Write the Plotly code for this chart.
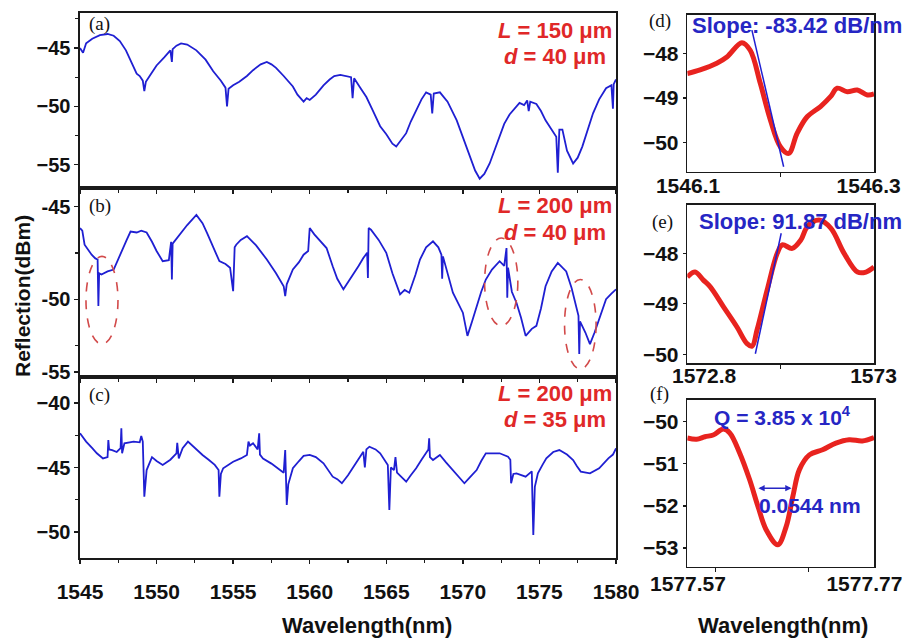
import plotly.graph_objects as go

# ---------------- data ----------------
a_wl = [1545.0,1545.2,1545.4,1545.8,1546.3,1546.8,1547.2,1547.6,1548.0,1548.4,1548.7,1548.9,1549.1,1549.2,1549.3,1549.6,1550.0,1550.5,1550.9,1551.0,1551.05,1551.3,1551.6,1552.0,1552.6,1553.2,1553.7,1554.2,1554.5,1554.6,1554.7,1555.0,1555.4,1555.9,1556.3,1556.8,1557.2,1557.5,1557.8,1558.3,1558.9,1559.2,1559.4,1559.6,1559.8,1560.0,1560.4,1560.9,1561.3,1561.6,1562.0,1562.4,1562.7,1562.8,1562.9,1563.3,1563.7,1564.1,1564.6,1565.0,1565.4,1565.65,1565.9,1566.3,1566.6,1566.95,1567.3,1567.6,1567.9,1568.0,1568.1,1568.5,1569.0,1569.6,1570.0,1570.4,1570.8,1571.1,1571.4,1571.75,1572.1,1572.4,1572.7,1573.05,1573.4,1573.7,1574.0,1574.2,1574.3,1574.4,1574.8,1575.1,1575.4,1575.8,1576.1,1576.2,1576.3,1576.5,1576.8,1577.2,1577.5,1577.8,1578.1,1578.5,1578.9,1579.35,1579.7,1579.8,1579.85,1580.0]
a_dbm = [-45.0,-45.4,-44.6,-44.2,-43.9,-43.8,-43.95,-44.4,-45.2,-46.3,-47.2,-47.4,-47.8,-48.7,-47.9,-47.3,-46.5,-45.8,-45.2,-46.2,-45.1,-44.8,-44.6,-44.7,-45.2,-46.0,-47.0,-47.8,-48.4,-50.0,-48.5,-48.2,-47.9,-47.4,-46.9,-46.4,-46.2,-46.4,-46.7,-47.4,-48.3,-49.0,-49.3,-49.6,-49.3,-49.45,-49.0,-48.2,-47.7,-47.4,-47.3,-47.4,-47.5,-49.3,-47.6,-48.4,-49.2,-50.3,-51.7,-52.4,-53.2,-53.45,-53.0,-52.3,-51.3,-50.3,-49.4,-48.8,-49.0,-50.6,-48.9,-48.8,-49.6,-51.2,-52.6,-54.0,-55.5,-56.2,-55.8,-54.9,-53.7,-52.6,-51.5,-50.7,-50.2,-49.7,-49.9,-49.5,-50.4,-49.6,-49.8,-50.4,-51.2,-52.0,-52.6,-55.7,-52.0,-52.0,-53.8,-54.9,-54.4,-53.45,-52.2,-50.6,-49.4,-48.45,-48.2,-50.2,-48.1,-47.7]

b_wl = [1545.0,1545.15,1545.3,1545.5,1545.76,1546.0,1546.15,1546.2,1546.25,1546.4,1546.8,1547.2,1547.6,1548.05,1548.3,1548.7,1549.0,1549.35,1549.7,1550.0,1550.4,1550.8,1550.95,1551.0,1551.05,1551.5,1552.0,1552.6,1553.0,1553.3,1553.7,1554.1,1554.5,1554.8,1555.0,1555.1,1555.2,1555.5,1555.9,1556.5,1557.2,1557.8,1558.3,1558.4,1558.5,1558.9,1559.3,1559.6,1559.9,1560.0,1560.3,1560.65,1561.1,1561.5,1561.8,1562.2,1562.5,1562.8,1563.2,1563.5,1563.75,1563.8,1563.85,1564.0,1564.5,1565.0,1565.4,1565.9,1566.2,1566.5,1566.9,1567.2,1567.6,1568.05,1568.4,1568.6,1568.65,1568.7,1569.0,1569.35,1570.0,1570.3,1570.6,1570.9,1571.2,1571.5,1571.9,1572.4,1572.7,1572.85,1572.9,1572.95,1573.2,1573.5,1573.8,1574.1,1574.5,1574.8,1575.1,1575.4,1575.8,1576.2,1576.5,1576.75,1577.1,1577.4,1577.55,1577.6,1577.65,1578.0,1578.3,1578.6,1578.9,1579.35,1579.7,1580.0]
b_dbm = [-46.16,-46.3,-47.06,-47.3,-47.6,-47.8,-47.86,-50.37,-48.6,-48.67,-48.5,-48.4,-47.6,-46.8,-46.35,-46.4,-46.3,-46.4,-46.9,-47.4,-47.95,-47.9,-46.9,-48.94,-47.0,-46.52,-46.0,-45.45,-45.9,-46.43,-47.2,-47.95,-48.1,-48.3,-49.57,-47.2,-47.06,-46.8,-46.6,-47.1,-47.86,-48.6,-49.3,-49.83,-49.2,-48.4,-48.0,-47.6,-47.4,-46.16,-46.5,-46.8,-47.24,-48.22,-48.9,-49.47,-49.1,-48.76,-48.2,-47.78,-47.5,-48.85,-46.16,-46.25,-46.8,-47.5,-48.6,-49.74,-49.5,-49.65,-48.7,-47.86,-47.2,-46.88,-47.2,-47.6,-48.9,-47.69,-48.6,-49.65,-50.73,-51.98,-51.2,-50.37,-49.6,-48.94,-48.4,-47.95,-48.2,-47.24,-49.92,-48.3,-49.6,-50.19,-51.0,-51.98,-51.6,-51.44,-50.5,-49.3,-48.5,-48.04,-48.3,-48.5,-49.4,-50.37,-50.9,-52.96,-51.2,-51.8,-52.43,-51.8,-51.09,-50.0,-49.7,-49.47]

c_wl = [1545.0,1545.4,1545.8,1546.1,1546.5,1546.8,1546.85,1546.9,1547.1,1547.4,1547.65,1547.7,1547.75,1547.9,1548.5,1548.9,1549.0,1549.1,1549.2,1549.35,1549.7,1550.0,1550.4,1550.9,1551.3,1551.35,1551.45,1551.7,1552.05,1552.5,1553.0,1553.4,1553.8,1554.05,1554.1,1554.2,1554.35,1555.0,1555.5,1555.9,1556.0,1556.1,1556.3,1556.6,1556.7,1556.75,1556.95,1557.5,1558.05,1558.3,1558.4,1558.5,1558.6,1558.9,1559.3,1559.6,1560.0,1560.4,1560.9,1561.5,1561.8,1562.1,1562.5,1562.8,1563.2,1563.5,1563.6,1563.7,1563.9,1564.3,1564.6,1564.9,1565.1,1565.2,1565.3,1565.5,1565.6,1565.7,1566.3,1566.6,1566.95,1567.3,1567.6,1567.75,1567.8,1567.85,1568.05,1568.5,1568.9,1569.35,1569.7,1570.1,1570.5,1570.9,1571.2,1571.5,1572.0,1572.4,1572.95,1573.1,1573.15,1573.3,1573.5,1574.1,1574.5,1574.6,1574.7,1574.9,1575.2,1575.45,1575.9,1576.3,1576.8,1577.2,1577.45,1577.7,1578.3,1578.9,1579.5,1579.8,1580.0]
c_dbm = [-42.35,-43.0,-43.5,-43.9,-44.3,-44.2,-42.87,-43.6,-43.65,-43.8,-43.5,-41.97,-43.9,-43.13,-43.0,-43.05,-42.56,-43.0,-47.26,-45.2,-44.2,-44.5,-44.8,-44.4,-43.9,-43.1,-44.3,-43.5,-43.0,-43.5,-44.03,-44.4,-44.8,-45.2,-47.26,-45.5,-45.06,-44.55,-44.3,-44.03,-43.0,-43.3,-43.13,-43.6,-42.35,-44.0,-44.3,-44.7,-45.2,-45.4,-43.65,-47.9,-46.3,-45.06,-44.5,-44.1,-44.03,-44.2,-44.68,-45.71,-45.9,-46.22,-45.6,-45.06,-44.4,-43.78,-45.0,-43.6,-43.39,-43.6,-43.9,-44.4,-44.8,-48.29,-45.0,-45.2,-44.2,-45.4,-46.1,-45.6,-45.06,-44.4,-43.9,-43.6,-42.74,-44.2,-44.42,-44.03,-44.6,-45.2,-45.7,-46.22,-45.7,-45.2,-44.5,-43.9,-43.9,-43.9,-44.16,-44.4,-46.22,-45.5,-45.45,-45.71,-45.3,-50.22,-46.5,-45.45,-44.8,-44.29,-43.8,-43.65,-44.0,-44.42,-44.9,-45.32,-45.45,-45.06,-44.29,-44.0,-43.52]

d_wl = [1546.1,1546.1137,1546.1316,1546.1424,1546.1585,1546.1674,1546.1782,1546.189,1546.1997,1546.2086,1546.2176,1546.2284,1546.2427,1546.2534,1546.2606,1546.2714,1546.2821,1546.2929,1546.3]
d_dbm = [-48.45,-48.37,-48.22,-48.08,-47.76,-47.93,-48.67,-49.49,-50.09,-50.24,-49.79,-49.42,-49.19,-48.97,-48.78,-48.86,-48.82,-48.93,-48.91]
d_fit_wl = [1546.1692, 1546.2032]
d_fit_dbm = [-47.48, -50.54]

e_wl = [1572.8,1572.8083,1572.8172,1572.8244,1572.8388,1572.8532,1572.864,1572.8694,1572.8747,1572.8855,1572.8963,1572.9017,1572.9124,1572.9214,1572.9286,1572.9411,1572.9537,1572.968,1572.9824,1572.9914,1573.0]
e_dbm = [-48.47,-48.37,-48.53,-48.66,-49.06,-49.46,-49.79,-49.84,-49.52,-48.73,-48.0,-47.83,-47.9,-47.74,-47.47,-47.34,-47.5,-48.0,-48.37,-48.37,-48.27]
e_fit_wl = [1572.8729, 1572.9006]
e_fit_dbm = [-49.99, -47.60]

f_wl = [1577.57,1577.58,1577.5889,1577.5977,1577.6084,1577.6155,1577.6262,1577.6368,1577.6457,1577.6546,1577.667,1577.6759,1577.683,1577.6901,1577.7008,1577.7149,1577.7292,1577.7434,1577.7575,1577.77]
f_dbm = [-50.39,-50.42,-50.36,-50.32,-50.18,-50.27,-50.75,-51.38,-52.01,-52.57,-52.92,-52.49,-51.78,-51.14,-50.79,-50.67,-50.51,-50.43,-50.46,-50.38]
f_fwhm_wl = [1577.6445, 1577.6817]
f_fwhm_dbm = -51.58

left_xticks = [1545, 1550, 1555, 1560, 1565, 1570, 1575, 1580]
b_ytickvals = [-45, -50, -53.93]
b_yticktext = ["-45", "-50", "-55"]
# tick-label positions of the zoomed panels (labels only, as in the reference)
d_xlabel_pos = [1546.1008, 1546.2943]
d_xlabel_txt = ["1546.1", "1546.3"]
e_xlabel_pos = [1572.818, 1572.9995]
e_xlabel_txt = ["1572.8", "1573"]
f_xlabel_pos = [1577.5707, 1577.7597]
f_xlabel_txt = ["1577.57", "1577.77"]
# dashed ellipses in (b): [x0, x1, y0, y1]
ellipses = [[1545.39, 1547.48, -47.69, -52.43],
            [1571.42, 1573.59, -46.7, -51.44],
            [1576.64, 1578.7, -48.94, -53.77]]

# ---------------- style ----------------
W, H = 908, 638
BLUE = "#1f1fd2"
RED = "#e8231f"
TXT_RED = "#e02828"
TXT_BLUE = "#2626c4"
FONT = "Liberation Sans, Arial, sans-serif"
SERIF = "Liberation Serif, Times New Roman, serif"

def px(x):
    return x / W

def py(y):
    return 1 - y / H

fig = go.Figure()
fig.add_trace(go.Scatter(x=a_wl, y=a_dbm, mode="lines", line=dict(color=BLUE, width=1.8), xaxis="x", yaxis="y"))
fig.add_trace(go.Scatter(x=b_wl, y=b_dbm, mode="lines", line=dict(color=BLUE, width=1.8), xaxis="x2", yaxis="y2"))
fig.add_trace(go.Scatter(x=c_wl, y=c_dbm, mode="lines", line=dict(color=BLUE, width=1.8), xaxis="x3", yaxis="y3"))
fig.add_trace(go.Scatter(x=d_wl, y=d_dbm, mode="lines", line=dict(color=RED, width=5, shape="spline"), xaxis="x4", yaxis="y4"))
fig.add_trace(go.Scatter(x=d_fit_wl, y=d_fit_dbm, mode="lines", line=dict(color=BLUE, width=1.5), xaxis="x4", yaxis="y4"))
fig.add_trace(go.Scatter(x=e_wl, y=e_dbm, mode="lines", line=dict(color=RED, width=5, shape="spline"), xaxis="x5", yaxis="y5"))
fig.add_trace(go.Scatter(x=e_fit_wl, y=e_fit_dbm, mode="lines", line=dict(color=BLUE, width=1.5), xaxis="x5", yaxis="y5"))
fig.add_trace(go.Scatter(x=f_wl, y=f_dbm, mode="lines", line=dict(color=RED, width=5, shape="spline"), xaxis="x6", yaxis="y6"))

axis_common = dict(showline=True, mirror=True, linecolor="#1a1a1a", linewidth=1.6,
                   showgrid=False, zeroline=False, ticks="outside", ticklen=4,
                   tickwidth=1.3, tickcolor="#1a1a1a", automargin=False, fixedrange=True)
xfont = dict(family=FONT, size=21, color="#111", weight="bold")
yfont = dict(family=FONT, size=20, color="#111", weight="bold")
yfont_r = dict(family=FONT, size=21, color="#111", weight="bold")

LX = [px(80), px(616)]
RX = [px(687.3), px(874)]

lay = dict(width=W, height=H, margin=dict(l=0, r=0, t=0, b=0, pad=0, autoexpand=False),
           paper_bgcolor="white", plot_bgcolor="white", showlegend=False, hovermode=False)

minor_x = dict(ticks="outside", ticklen=3, tickwidth=1.2, tickcolor="#1a1a1a", dtick=2.5, tick0=1545)
for i, (dom, anchor) in enumerate([([py(188), py(13)], "y"), ([py(377), py(188)], "y2"), ([py(558), py(377)], "y3")]):
    name = "xaxis" if i == 0 else f"xaxis{i+1}"
    lay[name] = dict(axis_common, domain=LX, anchor=anchor, range=[1545, 1580],
                     tickmode="array", tickvals=left_xticks, showticklabels=(i == 2),
                     tickfont=xfont, minor=minor_x, ticklabelstandoff=10)
    yname = "yaxis" if i == 0 else f"yaxis{i+1}"
    xa = "x" if i == 0 else f"x{i+1}"
    lay[yname] = dict(axis_common, domain=dom, anchor=xa, tickfont=yfont)

lay["yaxis"].update(range=[-57, -42], tickmode="array", tickvals=[-45, -50, -55],
                    minor=dict(ticks="outside", ticklen=3, tickmode="array", tickvals=[-42.5, -47.5, -52.5]))
lay["yaxis2"].update(range=[-54.2, -44], tickmode="array", tickvals=b_ytickvals, ticktext=b_yticktext,
                     minor=dict(ticks="outside", ticklen=3, tickmode="array", tickvals=[-47.5, -52.5]))
lay["yaxis3"].update(range=[-52, -38], tickmode="array", tickvals=[-40, -45, -50],
                     minor=dict(ticks="outside", ticklen=3, tickmode="array", tickvals=[-42.5, -47.5]))

right_specs = [
    ("xaxis4", "yaxis4", "x4", "y4", [py(171.7), py(15)], [1546.1, 1546.3], d_xlabel_pos, d_xlabel_txt, [1546.2], [-50.65, -47.14], [-48, -49, -50], -6),
    ("xaxis5", "yaxis5", "x5", "y5", [py(363.3), py(205)], [1572.8, 1573.0], e_xlabel_pos, e_xlabel_txt, [1572.9], [-50.18, -47.04], [-48, -49, -50], -7),
    ("xaxis6", "yaxis6", "x6", "y6", [py(566.7), py(400)], [1577.57, 1577.77], f_xlabel_pos, f_xlabel_txt, [1577.60, 1577.70], [-53.44, -49.49], [-50, -51, -52, -53], -3),
]
for xn, yn, xa, ya, dom, xr, tv, tt, mv, yr, ytv, stand in right_specs:
    lay[xn] = dict(axis_common, domain=RX, anchor=ya, range=xr, tickmode="array", tickvals=tv,
                   ticktext=tt, tickfont=xfont, ticklen=0, ticklabelstandoff=stand,
                   ticklabeloverflow="allow",
                   minor=dict(ticks="outside", ticklen=4, tickwidth=1.3, tickmode="array", tickvals=mv))
    lay[yn] = dict(axis_common, domain=dom, anchor=xa, range=yr, tickmode="array", tickvals=ytv,
                   tickfont=yfont_r, ticklen=3)

fig.update_layout(**lay)

ann = []
def text(x, y, s, size, color="#111", family=FONT, xanchor="center", bold=True, angle=0):
    ann.append(dict(x=px(x), y=py(y), xref="paper", yref="paper", text=s, showarrow=False,
                    xanchor=xanchor, yanchor="middle", textangle=angle,
                    font=dict(family=family, size=size, color=color, weight="bold" if bold else "normal")))

# axis titles
text(22, 296, "Reflection(dBm)", 21, angle=-90)
text(367, 625, "Wavelength(nm)", 22)
text(783, 625, "Wavelength(nm)", 22)
# panel labels
for lbl, x, y in [("(a)", 87, 24), ("(b)", 87, 206), ("(c)", 87, 395),
                  ("(d)", 647, 21), ("(e)", 650, 222), ("(f)", 648, 394)]:
    text(x, y, lbl, 19, family=SERIF, xanchor="left", bold=False)
# red parameter labels
for l_txt, d_txt, y1, y2 in [("150", "40", 30, 57), ("200", "40", 205, 232), ("200", "35", 393, 419)]:
    text(555, y1, f"<i>L</i> = {l_txt} μm", 22, color=TXT_RED)
    text(555, y2, f"<i>d</i> = {d_txt} μm", 22, color=TXT_RED)
# blue labels
text(690, 26, "Slope: -83.42 dB/nm", 22, color=TXT_BLUE, xanchor="left")
text(697, 222, "Slope: 91.87 dB/nm", 22, color=TXT_BLUE, xanchor="left")
text(712, 416, "Q = 3.85 x 10<sup>4</sup>", 21, color=TXT_BLUE, xanchor="left")
text(757, 505, "0.0544 nm", 21, color=TXT_BLUE, xanchor="left")

ann.append(dict(x=f_fwhm_wl[1], y=f_fwhm_dbm, ax=f_fwhm_wl[0], ay=f_fwhm_dbm,
                xref="x6", yref="y6", axref="x6", ayref="y6", text="", showarrow=True,
                arrowside="end+start", arrowhead=2, arrowsize=0.9, arrowwidth=1.4, arrowcolor=TXT_BLUE))
fig.update_layout(annotations=ann)

shapes = []
for x0, x1, y0, y1 in ellipses:
    shapes.append(dict(type="circle", xref="x2", yref="y2", x0=x0, x1=x1, y0=y0, y1=y1,
                       line=dict(color="#d24a4a", width=1.6, dash="dash")))
fig.update_layout(shapes=shapes)

# remove the default 8px page margin so the figure sits at the window's corner
fig.write_html("out.html", config={"displayModeBar": False, "staticPlot": True},
               post_script="document.body.style.margin='0';document.body.style.overflow='hidden';")
